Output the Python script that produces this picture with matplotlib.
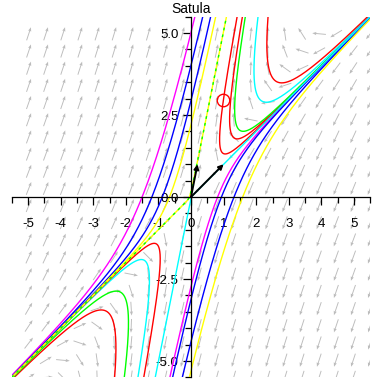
import numpy as np
import matplotlib
matplotlib.use("Agg")
import matplotlib.pyplot as plt
from matplotlib.ticker import MultipleLocator, FixedLocator, FixedFormatter

plt.rcParams["font.family"] = ["Liberation Sans", "DejaVu Sans"]
plt.rcParams["axes.unicode_minus"] = False

# saddle: x' = -2x + y, y' = -5x + 4y  (eigenvectors (1,1) and (1,5))
A = np.array([[-2.0, 1.0], [-5.0, 4.0]])

# one point on every drawn trajectory, with its colour
traj_x0 = [1.0, 1.56, 1.65, 2.05, 2.36,            # upper right
           -2.34, -2.04, -1.62, -1.44,             # lower left
           -1.5, -1.2, -0.88, -0.66,               # upper left
           0.0, 0.0, 0.0, 0.0, -0.12]              # lower right
traj_y0 = [3.0, 5.4, 5.4, 5.45, 5.45,
           -5.45, -5.45, -5.45, -5.45,
           0.0, 0.0, 0.0, 0.0,
           -2.73, -3.12, -4.41, -5.3, -0.63]
traj_color = ["red", "red", "lime", "cyan", "red",
              "red", "lime", "cyan", "red",
              "magenta", "blue", "blue", "yellow",
              "magenta", "blue", "blue", "yellow", "cyan"]

# curve lying on the separatrix (yellow and green on top of each other)
sep_x0, sep_y0 = 0.18, 1.0

# eigenvector arrows from the origin
eig_dx = [1.0, 0.2]
eig_dy = [1.0, 1.0]

# marked point
mark_x, mark_y = 0.97, 2.97

XLIM = (-5.5, 5.5)
YLIM = (-5.5, 5.5)


def trajectory(x0, y0):
    w, V = np.linalg.eig(A)
    c = np.linalg.solve(V, np.array([x0, y0]))
    t = np.linspace(-9, 9, 36001)
    P = (V @ (c[:, None] * np.exp(np.outer(w, t)))).real
    x, y = P
    out = (np.abs(x) > 5.8) | (np.abs(y) > 5.8)
    x = np.where(out, np.nan, x)
    y = np.where(out, np.nan, y)
    return x, y


fig = plt.figure(figsize=(3.82, 3.82), dpi=100)
ax = fig.add_axes([11.7 / 382, 4.6 / 382, 358.6 / 382, 360.8 / 382])

# direction field
step = 11 / 21
gx = XLIM[0] + step * np.arange(1, 22)
gy = YLIM[0] + step * np.arange(0, 21)
X, Y = np.meshgrid(gx, gy)
U = A[0, 0] * X + A[0, 1] * Y
W = A[1, 0] * X + A[1, 1] * Y
n = np.hypot(U, W)
n[n == 0] = 1
L = 0.42
ax.quiver(X, Y, U / n * L, W / n * L, angles="xy", scale_units="xy", scale=1,
          pivot="middle", color="#bcbcbc", width=0.0026, headwidth=3.5,
          headlength=4.5, headaxislength=4, zorder=1)

for x0, y0, col in zip(traj_x0, traj_y0, traj_color):
    x, y = trajectory(x0, y0)
    ax.plot(x, y, color=col, lw=1.0, zorder=2)

sx, sy = trajectory(sep_x0, sep_y0)
ax.plot(sx, sy, color="yellow", lw=1.0, zorder=2)
ax.plot(sx, sy, color="lime", lw=1.0, ls=(0, (2, 3)), zorder=2)

for dx, dy in zip(eig_dx, eig_dy):
    ax.annotate("", xy=(dx, dy), xytext=(0, 0),
                arrowprops=dict(arrowstyle="-|>", color="black", lw=1.4,
                                mutation_scale=7, shrinkA=0, shrinkB=0),
                zorder=4)

ax.plot([mark_x], [mark_y], "o", ms=9, mfc="none", mec="red", mew=1.0, zorder=3)

ax.set_xlim(*XLIM)
ax.set_ylim(*YLIM)
for s in ("top", "right"):
    ax.spines[s].set_visible(False)
ax.spines["left"].set_position(("data", 0))
ax.spines["bottom"].set_position(("data", 0))
for s in ("left", "bottom"):
    ax.spines[s].set_linewidth(0.9)
    ax.spines[s].set_zorder(5)

xt = list(range(-5, 6))
ax.xaxis.set_major_locator(FixedLocator(xt))
ax.xaxis.set_major_formatter(FixedFormatter([str(v) for v in xt]))
ax.xaxis.set_minor_locator(MultipleLocator(0.5))
yt = [-5.0, -2.5, 0.0, 2.5, 5.0]
ax.yaxis.set_major_locator(FixedLocator(yt))
ax.yaxis.set_major_formatter(FixedFormatter(["%.1f" % v for v in yt]))
ax.yaxis.set_minor_locator(MultipleLocator(0.5))
ax.tick_params(axis="x", which="major", direction="out", length=6, width=0.9,
               pad=9, labelsize=9.5)
ax.tick_params(axis="y", which="major", direction="out", length=6, width=0.9,
               pad=3, labelsize=9.5)
ax.tick_params(which="minor", direction="out", length=4, width=0.9)
for lab in ax.get_xticklabels() + ax.get_yticklabels():
    lab.set_zorder(6)

fig.text(0.5, 1 - 9 / 382, "Satula", ha="center", va="center", fontsize=10)

fig.savefig("out.png", dpi=100)
